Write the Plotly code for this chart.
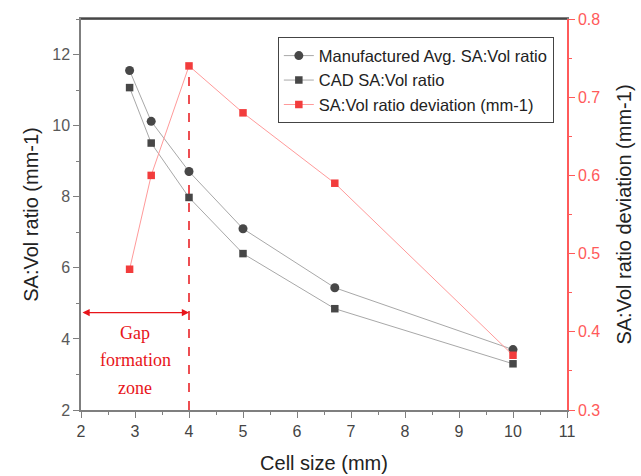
import plotly.graph_objects as go

cell_size = [2.9, 3.3, 4.0, 5.0, 6.7, 10.0]
manufactured_ratio = [11.55, 10.12, 8.71, 7.10, 5.44, 3.70]
cad_ratio = [11.07, 9.51, 7.98, 6.40, 4.85, 3.30]
ratio_deviation = [0.48, 0.60, 0.74, 0.68, 0.59, 0.37]

gap_limit = 4.0
arrow_level = 4.74
gap_text = ["Gap", "formation", "zone"]
gap_text_y = [4.18, 3.42, 2.63]

SANS = "Arial, Liberation Sans, sans-serif"
SERIF = "Times New Roman, Liberation Serif, serif"
GRAY_AX = "#7f7f7f"
RED_AX = "#ff5a5a"

fig = go.Figure()
fig.add_trace(go.Scatter(
    x=cell_size, y=manufactured_ratio, name="Manufactured Avg. SA:Vol ratio",
    mode="lines+markers",
    line=dict(color="#a8a8a8", width=1),
    marker=dict(symbol="circle", size=9, color="#474747"),
))
fig.add_trace(go.Scatter(
    x=cell_size, y=cad_ratio, name="CAD SA:Vol ratio",
    mode="lines+markers",
    line=dict(color="#a8a8a8", width=1),
    marker=dict(symbol="square", size=7.5, color="#474747"),
))
fig.add_trace(go.Scatter(
    x=cell_size, y=ratio_deviation, name="SA:Vol ratio deviation (mm-1)",
    mode="lines+markers", yaxis="y2",
    line=dict(color="#ff9a9a", width=1),
    marker=dict(symbol="square", size=7.5, color="#f23c3c"),
))

# dashed boundary line of gap formation zone
fig.add_shape(type="line", xref="x", yref="y2",
              x0=gap_limit, x1=gap_limit, y0=0.3, y1=ratio_deviation[2],
              line=dict(color="#e8141a", width=1.5, dash="dash"), layer="below")

# double arrow
fig.add_annotation(x=gap_limit, y=arrow_level, ax=2, ay=arrow_level,
                   xref="x", yref="y", axref="x", ayref="y",
                   text="", showarrow=True, arrowhead=2, startarrowhead=2,
                   arrowside="end+start", arrowsize=1.2, startarrowsize=1.2,
                   arrowwidth=1.2, arrowcolor="#e8141a")
for t, yy in zip(gap_text, gap_text_y):
    fig.add_annotation(x=3.0, y=yy, xref="x", yref="y", text=t, showarrow=False,
                       font=dict(family=SERIF, size=18, color="#e8141a"))

fig.update_layout(
    width=641, height=476,
    margin=dict(l=81, r=74, t=19, b=66),
    paper_bgcolor="white", plot_bgcolor="white",
    showlegend=True,
    legend=dict(x=0.405, y=0.953, xanchor="left", yanchor="top",
                bgcolor="white", bordercolor="#444444", borderwidth=1,
                font=dict(family=SANS, size=16.5, color="#222222"),
                tracegroupgap=0, itemwidth=30),
    xaxis=dict(range=[2, 11], dtick=1, tick0=2, showgrid=False, zeroline=False,
               automargin=False,
               showline=True, linecolor=GRAY_AX, linewidth=1.5, mirror=True,
               ticks="outside", ticklen=6, tickwidth=1.2, tickcolor=GRAY_AX,
               minor=dict(dtick=0.5, ticks="outside", ticklen=3, tickcolor=GRAY_AX),
               tickfont=dict(family=SANS, size=16, color="#444444"),
               title=dict(text="Cell size (mm)", standoff=17,
                          font=dict(family=SANS, size=20, color="#222222"))),
    yaxis=dict(range=[2, 13], dtick=2, tick0=2, showgrid=False, zeroline=False,
               automargin=False,
               showline=True, linecolor=GRAY_AX, linewidth=1.5,
               ticks="outside", ticklen=6, tickwidth=1.2, tickcolor=GRAY_AX,
               minor=dict(dtick=1, ticks="outside", ticklen=3, tickcolor=GRAY_AX),
               tickfont=dict(family=SANS, size=16, color="#595959"),
               title=dict(text="SA:Vol ratio (mm-1)", standoff=8,
                          font=dict(family=SANS, size=20, color="#222222"))),
    yaxis2=dict(range=[0.3, 0.8], dtick=0.1, tick0=0.3, overlaying="y", side="right",
                showgrid=False, zeroline=False, tickformat=".1f",
                automargin=False,
                showline=True, linecolor=RED_AX, linewidth=1.5,
                ticks="outside", ticklen=6, tickwidth=1.2, tickcolor=RED_AX,
                minor=dict(dtick=0.05, ticks="outside", ticklen=3, tickcolor=RED_AX),
                tickfont=dict(family=SANS, size=16, color=RED_AX),
                title=dict(text="SA:Vol ratio deviation (mm-1)", standoff=18,
                           font=dict(family=SANS, size=20, color="#222222"))),
)
# top border line (dark)
fig.add_shape(type="line", xref="paper", yref="paper", x0=0, x1=1, y0=1, y1=1,
              line=dict(color="#333333", width=1.5))

fig.write_html("out.html")
